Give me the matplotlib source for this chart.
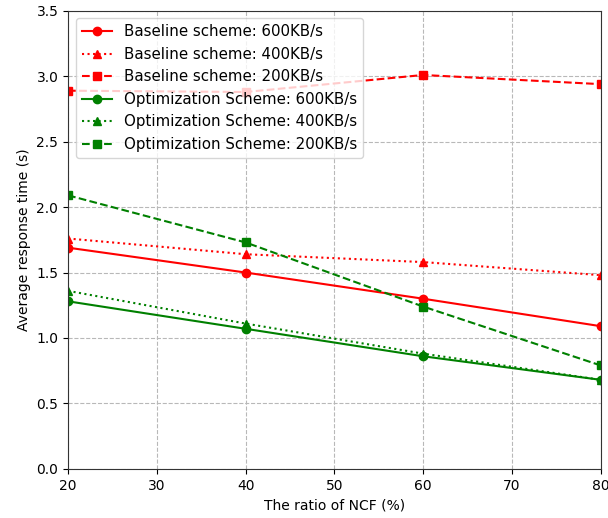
import matplotlib
matplotlib.use("Agg")
import matplotlib.pyplot as plt

# NCF ratio (%)
ncf = [20, 40, 60, 80]

# Average response time (s)
base_600 = [1.69, 1.50, 1.30, 1.09]
base_400 = [1.76, 1.64, 1.58, 1.48]
base_200 = [2.89, 2.88, 3.01, 2.94]
opt_600 = [1.28, 1.07, 0.86, 0.68]
opt_400 = [1.36, 1.11, 0.88, 0.68]
opt_200 = [2.09, 1.73, 1.24, 0.79]

fig = plt.figure(figsize=(6.08, 5.18), dpi=100)
ax = fig.add_axes([0.112, 0.095, 0.876, 0.884])

ax.plot(ncf, base_600, color="red", linestyle="-", marker="o", label="Baseline scheme: 600KB/s")
ax.plot(ncf, base_400, color="red", linestyle=":", marker="^", label="Baseline scheme: 400KB/s")
ax.plot(ncf, base_200, color="red", linestyle="--", marker="s", label="Baseline scheme: 200KB/s")
ax.plot(ncf, opt_600, color="green", linestyle="-", marker="o", label="Optimization Scheme: 600KB/s")
ax.plot(ncf, opt_400, color="green", linestyle=":", marker="^", label="Optimization Scheme: 400KB/s")
ax.plot(ncf, opt_200, color="green", linestyle="--", marker="s", label="Optimization Scheme: 200KB/s")

ax.set_xlim(20, 80)
ax.set_ylim(0, 3.5)
ax.set_xlabel("The ratio of NCF (%)")
ax.set_ylabel("Average response time (s)")
ax.grid(True, linestyle="--", color="#b8b8b8")
for sp in ax.spines.values():
    sp.set_color("#333333")
ax.legend(loc="upper left", fontsize=10.8)

fig.savefig("out.png")
